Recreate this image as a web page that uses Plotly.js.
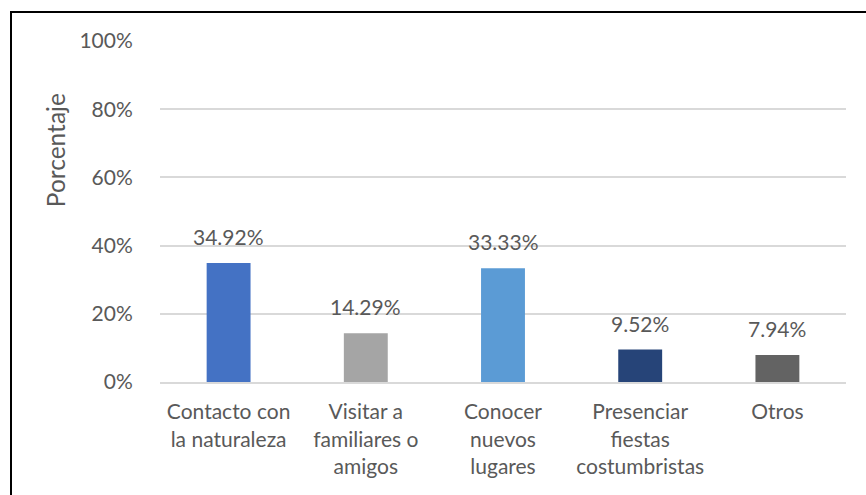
<!DOCTYPE html>
<html><head><meta charset="utf-8">
<script src="https://cdn.plot.ly/plotly-3.0.1.min.js"></script>
<style>
body{margin:0;padding:0;background:#fff;overflow:hidden}
#chart{width:866px;height:495px;position:absolute;left:0;top:0}
#frame{position:absolute;left:10px;top:11px;width:900px;height:520px;border:2px solid #000;pointer-events:none}
</style></head>
<body>
<div id="chart"></div>
<div id="frame"></div>
<script>
const categories = ["Contacto con<br>la naturaleza","Visitar a<br>familiares o<br>amigos","Conocer<br>nuevos<br>lugares","Presenciar<br>fiestas<br>costumbristas","Otros"];
const values = [0.3492, 0.1429, 0.3333, 0.0952, 0.0794];
const labels = ["34.92%","14.29%","33.33%","9.52%","7.94%"];
const colors = ["#4472C4","#A5A5A5","#5B9BD5","#264478","#636363"];
const tickVals = [0,0.2,0.4,0.6,0.8,1.0];
const tickText = ["0%","20%","40%","60%","80%","100%"];

const font = {family:"Lato, 'Open Sans', sans-serif", size:21, color:"#595959"};

const trace = {
  type:"bar", x:categories, y:values,
  marker:{color:colors},
  hoverinfo:"none"
};

const annotations = categories.map((c,i)=>({
  x:c, y:values[i], xref:"x", yref:"y", text:labels[i],
  showarrow:false, yanchor:"bottom", yshift:12, font:font
}));
annotations.push({
  xref:"paper", yref:"paper", x:-0.153, y:0.68, text:"Porcentaje",
  textangle:-90, showarrow:false, xanchor:"center", yanchor:"middle",
  font:{family:font.family, size:24.5, color:"#595959"}
});

const layout = {
  width:866, height:495,
  margin:{l:160, r:20, t:41, b:113, pad:0},
  paper_bgcolor:"#fff", plot_bgcolor:"#fff",
  bargap:0.68,
  showlegend:false,
  font:font,
  xaxis:{
    type:"category", tickfont:font, showgrid:false,
    showline:true, linecolor:"#D9D9D9", linewidth:2,
    ticks:"outside", ticklen:10, tickcolor:"rgba(0,0,0,0)"
  },
  yaxis:{
    range:[0,1.0], tickvals:tickVals, ticktext:tickText, tickfont:font,
    showgrid:true, gridcolor:"#D9D9D9", gridwidth:2, zeroline:false,
    showline:false, ticks:"outside", ticklen:22, tickcolor:"rgba(0,0,0,0)"
  },
  annotations:annotations
};

Plotly.newPlot("chart",[trace],layout,{staticPlot:true,displayModeBar:false});
</script>
</body></html>
